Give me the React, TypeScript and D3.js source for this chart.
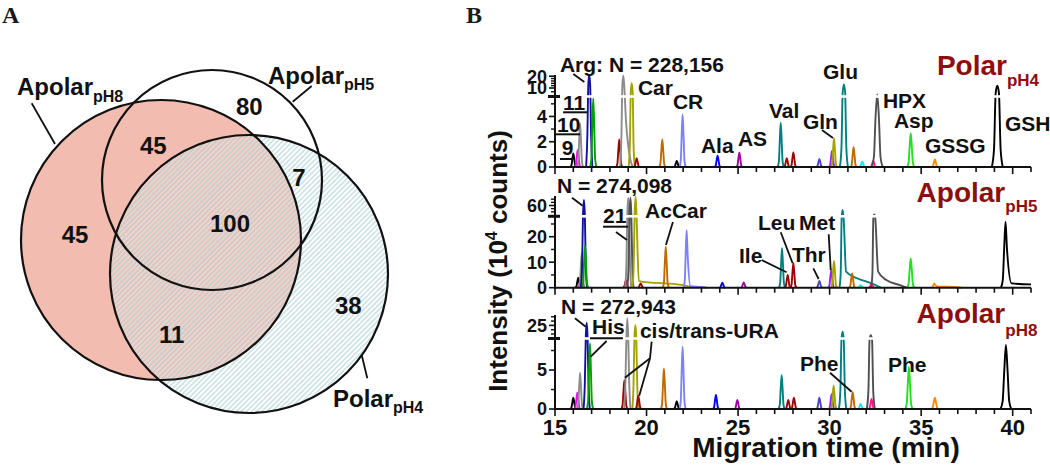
import React from "react";
import * as d3 from "d3";

// ---------------- DATA ----------------
// Venn diagram (panel A)
const vennSetNames = ["Apolar", "Apolar", "Polar"];
const vennSetSubs = ["pH8", "pH5", "pH4"];
const vennRegionCounts = [80, 45, 7, 100, 45, 38, 11];

// Electropherograms (panel B)
const timeTicks = [15, 20, 25, 30, 35, 40];
const panelTitles = ["Polar", "Apolar", "Apolar"];
const panelSubs = ["pH4", "pH5", "pH8"];
const plateNumbers = ["Arg: N = 228,156", "N = 274,098", "N = 272,943"];

const yTicksPolarPH4 = [0, 2, 4, 10, 20];
const yTicksApolarPH5 = [0, 10, 20, 60];
const yTicksApolarPH8 = [0, 5, 25];
const yMinorPolarPH4 = [1, 3, 5, 8, 12, 14, 16, 18];
const yMinorApolarPH5 = [5, 15, 25, 50, 55, 65, 70];
const yMinorApolarPH8 = [2.5, 7.5, 20, 22.5, 27.5, 30];

// peak: [migration time (min), height (10^4 counts), trace, half-width (min)?, tail points?]
type Peak = [number, number, string, number?, [number, number][]?];

const peaksPolarPH4: Peak[] = [
  [16.0, 1.08, "k"],
  [16.24, 1.34, "m"],
  [16.37, 3.46, "gy"],
  [16.87, 21, "nv"],
  [17.09, 5.44, "gn"],
  [18.51, 2.19, "dr"],
  [18.73, 20.4, "gy", 0.17, [[18.88, 3.6], [19.0, 1.7], [19.13, 0.5], [19.25, 0]]],
  [19.19, 14, "ol"],
  [19.46, 0.69, "dr"],
  [20.86, 2.19, "br"],
  [21.65, 0.47, "k"],
  [21.97, 4.17, "lb"],
  [23.88, 0.9, "bl"],
  [25.07, 1.13, "pu"],
  [27.33, 3.5, "tl"],
  [27.66, 0.69, "dr"],
  [28.02, 1.16, "dr"],
  [29.44, 0.63, "sb"],
  [30.13, 1.27, "vi"],
  [30.24, 2.27, "ol"],
  [30.78, 13.1, "tl", 0.22],
  [31.31, 1.56, "br"],
  [31.78, 0.42, "cy"],
  [32.38, 0.47, "pk"],
  [32.6, 6.6, "hx", 0.3],
  [34.43, 2.67, "lg", 0.2],
  [35.75, 0.61, "or"],
  [39.16, 11.9, "k", 0.3],
];

const peaksApolarPH5: Peak[] = [
  [16.27, 3.9, "k"],
  [16.4, 2.6, "m"],
  [16.46, 13.5, "gy"],
  [16.58, 68.7, "nv"],
  [16.64, 16.7, "gn"],
  [18.88, 3.0, "dr"],
  [19.0, 72.3, "gy"],
  [19.12, 72.3, "hx"],
  [19.4, 73.9, "ol", 0.17, [[19.58, 2.6], [22.0, 1.0], [22.6, 0]]],
  [19.68, 1.7, "dr"],
  [21.05, 16.1, "br"],
  [22.19, 22.6, "lb", 0.17, [[22.4, 0.6], [23.0, 0.3], [23.3, 0]]],
  [24.14, 2.0, "bl"],
  [25.31, 2.1, "pu"],
  [27.4, 15.5, "tl"],
  [27.71, 5.0, "dr"],
  [28.02, 9.6, "dr"],
  [29.44, 2.6, "sb"],
  [30.09, 6.9, "vi"],
  [30.24, 10.5, "ol"],
  [30.71, 52.9, "tl", 0.17, [[30.9, 6.3], [31.5, 3.7], [32.3, 1.7], [32.8, 0]]],
  [31.23, 5.6, "br"],
  [31.69, 1.0, "cy"],
  [32.29, 1.7, "pk"],
  [32.44, 46, "hx", 0.17, [[32.65, 6.3], [33.1, 3.0], [33.84, 1.0], [34.2, 0]]],
  [34.43, 11.5, "lg", 0.2],
  [35.72, 1.7, "or", 0.17, [[35.95, 0.4], [36.8, 0.3], [37.2, 0]]],
  [39.61, 25.9, "k", 0.25, [[39.94, 1.7], [40.94, 1.3], [41, 1.3]]],
];

const peaksApolarPH8: Peak[] = [
  [16.0, 1.45, "k"],
  [16.22, 2.1, "m"],
  [16.37, 4.65, "gy"],
  [16.73, 26.6, "nv"],
  [16.91, 8.4, "gn"],
  [18.79, 3.7, "dr"],
  [18.95, 29.1, "gy"],
  [19.39, 25.2, "ol"],
  [19.55, 1.67, "dr"],
  [20.95, 5.2, "br"],
  [21.65, 1.0, "k"],
  [21.97, 8.0, "lb"],
  [23.79, 1.8, "bl"],
  [24.96, 1.15, "pu"],
  [27.38, 4.35, "tl"],
  [27.74, 1.15, "dr"],
  [28.05, 1.45, "dr"],
  [29.44, 1.45, "sb"],
  [30.11, 1.9, "vi"],
  [30.22, 3.0, "ol"],
  [30.71, 21.4, "tl", 0.2],
  [31.26, 2.15, "br"],
  [31.69, 0.64, "cy"],
  [32.25, 19.4, "hx", 0.22],
  [32.29, 1.28, "pk"],
  [34.33, 5.4, "lg", 0.2],
  [35.75, 1.45, "or", 0.2],
  [39.63, 8.2, "k", 0.3],
];

const peakLabelsPolarPH4 = ["Car", "CR", "Ala", "AS", "Val", "Gln", "Glu", "HPX", "Asp", "GSSG", "GSH"];
const peakLabelsApolarPH5 = ["AcCar", "Ile", "Leu", "Thr", "Met"];
const peakLabelsApolarPH8 = ["His", "cis/trans-URA", "Phe", "Phe"];
const markerLabelsPolarPH4 = ["11", "10", "9"];
const markerLabelsApolarPH5 = ["21"];

// ---------------- STYLE / LAYOUT ----------------
const FONT = "'Liberation Sans', Arial, Helvetica, sans-serif";
const DARK_RED = "#8e0d0d";
const traceColors: Record<string, string> = {
  k: "#000000", m: "#ff00ff", gy: "#8c8c8c", nv: "#1212a0", gn: "#00a000",
  dr: "#a00000", hx: "#505050", ol: "#a3a300", br: "#c06a00", lb: "#8080ff",
  bl: "#0000ff", pu: "#a000a0", tl: "#008080", sb: "#4848c0", vi: "#9a20ff",
  cy: "#00f0f0", pk: "#ff1493", lg: "#22e022", or: "#ff8c00",
};

const vennCircles = [
  { cx: 161, cy: 240, r: 140 }, // Apolar pH8
  { cx: 212, cy: 180, r: 110 }, // Apolar pH5
  { cx: 249, cy: 274, r: 139 }, // Polar pH4
];
const vennLabelLayout = [
  { x: 17, y: 95 },
  { x: 268, y: 83.5 },
  { x: 333, y: 406.5 },
];
const vennLeaders = [
  [31.7, 103.3, 55, 144],
  [311.7, 86, 292.7, 101.7],
  [361.7, 355, 367.3, 378.3],
];
const vennCountLayout = [
  [249.3, 115], [153.3, 154], [299, 185.7], [230, 232.3], [75, 243.3], [348.3, 314], [171.7, 343.3],
];

const panelYDomains = [
  [0, 5.5, 6, 10, 21],
  [0, 27.5, 45, 75],
  [0, 8.9, 18, 31],
];
const panelYRanges = [
  [167, 97.5, 95.5, 88, 75],
  [287.7, 217.6, 215, 196],
  [409, 339.6, 337.5, 315],
];
const panelBreakY = [96.5, 216.3, 338.5];

const panels = [
  { peaks: peaksPolarPH4, ticks: yTicksPolarPH4, minor: yMinorPolarPH4 },
  { peaks: peaksApolarPH5, ticks: yTicksApolarPH5, minor: yMinorApolarPH5 },
  { peaks: peaksApolarPH8, ticks: yTicksApolarPH8, minor: yMinorApolarPH8 },
];

// label layouts: [time, pixel offset from baseline]
const peakLabelLayout = [
  [[19.53, -72], [21.44, -58], [22.97, -14], [24.99, -21], [26.69, -49], [28.54, -38], [29.64, -88], [32.91, -59], [33.51, -39], [35.21, -14], [39.58, -36.5]],
  [[19.92, -69.4], [25.05, -24.7], [26.09, -57.7], [27.94, -26], [28.33, -57.7]],
  [[17.02, -75], [19.64, -71.3], [28.38, -38], [33.19, -37.3]],
];
const markerLayout = [
  [[15.44, -57], [15.11, -35], [15.37, -12]],
  [[17.62, -64.7]],
  [],
];
const underlineLayout = [
  [[15.44, 16.75, -54.7], [15.0, 16.37, -32.7], [15.27, 15.98, -8]],
  [[17.62, 18.99, -61]],
  [[16.91, 18.71, -70.7]],
];
const leaderLayout = [
  [[16.0, -93, 16.6, -85], [29.58, -37, 30.18, -29]],
  [[15.93, -90, 16.51, -82], [18.33, -55.7, 18.93, -47.7], [21.44, -65.7, 21.06, -42.7], [26.29, -27.7, 27.65, -15.4], [27.33, -55.4, 27.98, -24.4], [29.11, -19.4, 29.4, -8.7], [29.95, -53.4, 30.06, -17.7]],
  [[16.09, -90.7, 16.68, -82.3], [17.82, -68, 16.95, -52.3], [20.28, -67.3, 20.19, -50.7], [20.19, -50.7, 18.82, -31.3], [20.19, -50.7, 19.6, -13.3], [30.02, -36.3, 31.2, -17.3]],
];
const plateLayout = [[15.27, -95], [15.11, -94.7], [15.33, -94.7]];
const titleLayout = [[35.86, -92, 11], [34.75, -85.7, 10], [34.75, -86, 13]];

function peakPoints(p: Peak): [number, number][] {
  const c = p[0], h = p[1];
  const w = p[3] ?? 0.17;
  const tail = p[4];
  const left: [number, number][] = [[c - w, 0], [c - 0.6 * w, 0.12 * h], [c - 0.3 * w, 0.6 * h], [c, h]];
  const right: [number, number][] = tail
    ? [[c + 0.3 * w, 0.6 * h], ...tail]
    : [[c + 0.3 * w, 0.6 * h], [c + 0.6 * w, 0.12 * h], [c + w, 0]];
  return [...left, ...right];
}

export default function App() {
  const x = d3.scaleLinear().domain([15, 41]).range([555, 1031]);
  const xTicksAll = d3.range(15, 42, 1);

  return (
    <svg
      width={1050}
      height={467}
      style={{ position: "absolute", left: 0, top: 0, background: "#fff" }}
      fontFamily={FONT}
      fontWeight="bold"
    >
      <defs>
        <pattern id="hatch" patternUnits="userSpaceOnUse" width="3.6" height="3.6" patternTransform="rotate(45)">
          <rect width="3.6" height="3.6" fill="#ffffff" fillOpacity="0.3" />
          <line x1="0.9" y1="0" x2="0.9" y2="3.6" stroke="#9cc8c8" strokeOpacity="0.6" strokeWidth="1.5" />
        </pattern>
      </defs>

      {/* ---------- Panel A ---------- */}
      <text x={2} y={23} fontFamily="'Liberation Serif', 'Times New Roman', serif" fontSize={24} fill="#1a1a1a">A</text>
      <circle cx={vennCircles[0].cx} cy={vennCircles[0].cy} r={vennCircles[0].r} fill="#f2bcb1" />
      <circle cx={vennCircles[2].cx} cy={vennCircles[2].cy} r={vennCircles[2].r} fill="url(#hatch)" />
      {vennCircles.map((c, i) => (
        <circle key={i} cx={c.cx} cy={c.cy} r={c.r} fill="none" stroke="#111" strokeWidth={2.2} />
      ))}
      {vennLeaders.map((l, i) => (
        <line key={i} x1={l[0]} y1={l[1]} x2={l[2]} y2={l[3]} stroke="#111" strokeWidth={1.8} />
      ))}
      {vennSetNames.map((n, i) => (
        <text key={i} x={vennLabelLayout[i].x} y={vennLabelLayout[i].y} fontSize={24} fill="#111">
          {n}
          <tspan fontSize={16} dy={6.5}>{vennSetSubs[i]}</tspan>
        </text>
      ))}
      {vennRegionCounts.map((v, i) => (
        <text key={i} x={vennCountLayout[i][0]} y={vennCountLayout[i][1]} fontSize={24} textAnchor="middle" fill="#111">
          {v}
        </text>
      ))}

      {/* ---------- Panel B ---------- */}
      <text x={466} y={23} fontFamily="'Liberation Serif', 'Times New Roman', serif" fontSize={24} fill="#1a1a1a">B</text>

      {panels.map((pan, pi) => {
        const y = d3.scaleLinear().domain(panelYDomains[pi]).range(panelYRanges[pi]);
        const base = panelYRanges[pi][0];
        const top = panelYRanges[pi][panelYRanges[pi].length - 1];
        const line = d3
          .line<[number, number]>()
          .x((d) => x(d[0]))
          .y((d) => y(d[1]))
          .curve(d3.curveMonotoneX);
        return (
          <g key={pi}>
            {/* traces */}
            {pan.peaks.map((p, k) => (
              <path key={k} d={line(peakPoints(p)) || ""} fill="none" stroke={traceColors[p[2]]} strokeWidth={1.9} strokeLinejoin="round" />
            ))}
            {/* axis break gap */}
            <rect x={x(15) + 2} y={panelBreakY[pi] - 1.3} width={x(41) - x(15)} height={2.6} fill="#fff" />
            {/* x axis */}
            <line x1={x(15) - 1} x2={x(41)} y1={base} y2={base} stroke="#111" strokeWidth={2} />
            {xTicksAll.map((t) => (
              <line key={t} x1={x(t)} x2={x(t)} y1={base} y2={base + (t % 5 === 0 ? 7 : 5)} stroke="#111" strokeWidth={1.6} />
            ))}
            {/* y axis */}
            <line x1={x(15)} x2={x(15)} y1={base + 1} y2={top} stroke="#111" strokeWidth={2} />
            {pan.ticks.map((t) => (
              <g key={t}>
                <line x1={x(15) - 6} x2={x(15)} y1={y(t)} y2={y(t)} stroke="#111" strokeWidth={1.6} />
                <text x={x(15) - 8} y={y(t)} dy="0.36em" textAnchor="end" fontSize={18} fill="#111">{t}</text>
              </g>
            ))}
            {pan.minor.map((t) => (
              <line key={t} x1={x(15) - 4} x2={x(15)} y1={y(t)} y2={y(t)} stroke="#111" strokeWidth={1.4} />
            ))}
            {/* break mark */}
            <line x1={x(15) - 7} x2={x(15) + 5} y1={panelBreakY[pi]} y2={panelBreakY[pi]} stroke="#111" strokeWidth={3} />

            {/* annotations */}
            {leaderLayout[pi].map((l, k) => (
              <line key={k} x1={x(l[0])} y1={base + l[1]} x2={x(l[2])} y2={base + l[3]} stroke="#111" strokeWidth={1.8} />
            ))}
            {underlineLayout[pi].map((u, k) => (
              <line key={k} x1={x(u[0])} x2={x(u[1])} y1={base + u[2]} y2={base + u[2]} stroke="#111" strokeWidth={2} />
            ))}
            {[markerLabelsPolarPH4, markerLabelsApolarPH5, []][pi].map((m, k) => (
              <text key={k} x={x(markerLayout[pi][k][0])} y={base + markerLayout[pi][k][1]} fontSize={21} fill="#111">{m}</text>
            ))}
            {[peakLabelsPolarPH4, peakLabelsApolarPH5, peakLabelsApolarPH8][pi].map((lab, k) => (
              <text key={k} x={x(peakLabelLayout[pi][k][0])} y={base + peakLabelLayout[pi][k][1]} fontSize={21} fill="#111">{lab}</text>
            ))}
            <text x={x(plateLayout[pi][0])} y={base + plateLayout[pi][1]} fontSize={21} fill="#111">{plateNumbers[pi]}</text>
            <text x={x(titleLayout[pi][0])} y={base + titleLayout[pi][1]} fontSize={28} fill={DARK_RED}>
              {panelTitles[pi]}
              <tspan fontSize={17} dy={titleLayout[pi][2]}>{panelSubs[pi]}</tspan>
            </text>
          </g>
        );
      })}

      {/* x tick labels (bottom panel) */}
      {timeTicks.map((t) => (
        <text key={t} x={x(t)} y={435} textAnchor="middle" fontSize={22} fill="#111">{t}</text>
      ))}
      {/* axis titles */}
      <text x={826} y={457} textAnchor="middle" fontSize={28} fill="#111">Migration time (min)</text>
      <text transform="translate(507,261) rotate(-90)" textAnchor="middle" fontSize={26} fill="#111">
        Intensity (10<tspan fontSize={16} dy={-10}>4</tspan><tspan dy={10}> counts)</tspan>
      </text>
    </svg>
  );
}
